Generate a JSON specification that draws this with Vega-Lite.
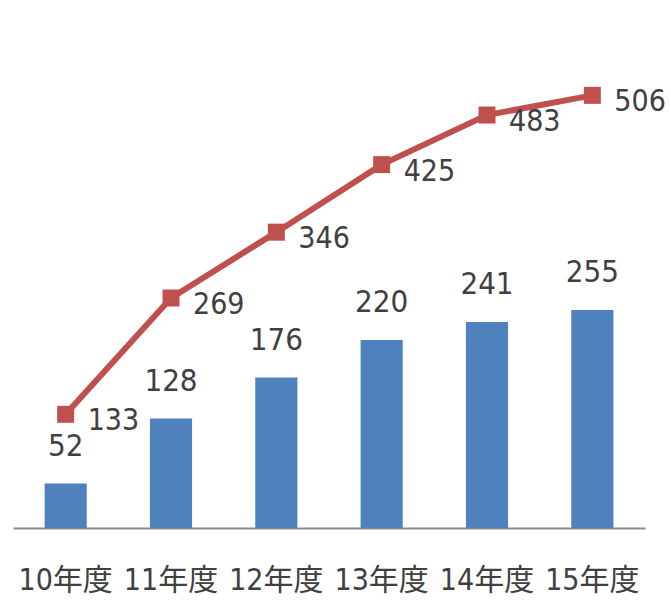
{
  "$schema": "https://vega.github.io/schema/vega-lite/v6.json",
  "width": 632,
  "height": 513,
  "autosize": {"type": "none"},
  "padding": {"left": 13, "top": 15, "right": 26, "bottom": 74},
  "background": "white",
  "config": {"view": {"stroke": null}},
  "data": {
    "values": [
      {"year": "10年度", "bar": 52, "line": 133},
      {"year": "11年度", "bar": 128, "line": 269},
      {"year": "12年度", "bar": 176, "line": 346},
      {"year": "13年度", "bar": 220, "line": 425},
      {"year": "14年度", "bar": 241, "line": 483},
      {"year": "15年度", "bar": 255, "line": 506}
    ]
  },
  "encoding": {
    "x": {
      "field": "year",
      "type": "nominal",
      "sort": null,
      "scale": {"paddingInner": 0.6, "paddingOuter": 0.3},
      "axis": {
        "title": null,
        "labelAngle": 0,
        "ticks": false,
        "domainColor": "#8c8c8c",
        "domainWidth": 2,
        "labelFont": "DejaVu Sans Condensed, Noto Sans CJK JP",
        "labelFontSize": 30,
        "labelColor": "#404040",
        "labelPadding": 37
      }
    }
  },
  "layer": [
    {
      "mark": {"type": "bar", "color": "#4F81BD"},
      "encoding": {
        "y": {
          "field": "bar",
          "type": "quantitative",
          "scale": {"domain": [0, 600]},
          "axis": null
        }
      }
    },
    {
      "mark": {
        "type": "text",
        "baseline": "alphabetic",
        "dy": -28,
        "font": "DejaVu Sans Condensed, Liberation Sans",
        "fontSize": 31,
        "color": "#404040"
      },
      "encoding": {
        "y": {"field": "bar", "type": "quantitative", "scale": {"domain": [0, 600]}},
        "text": {"field": "bar"}
      }
    },
    {
      "mark": {"type": "line", "color": "#C0504D", "strokeWidth": 6},
      "encoding": {
        "y": {"field": "line", "type": "quantitative", "scale": {"domain": [0, 600]}}
      }
    },
    {
      "mark": {"type": "point", "shape": "square", "filled": true, "size": 289, "color": "#C0504D", "opacity": 1},
      "encoding": {
        "y": {"field": "line", "type": "quantitative", "scale": {"domain": [0, 600]}}
      }
    },
    {
      "mark": {
        "type": "text",
        "align": "left",
        "baseline": "middle",
        "dx": 22,
        "dy": 7,
        "font": "DejaVu Sans Condensed, Liberation Sans",
        "fontSize": 30,
        "color": "#404040"
      },
      "encoding": {
        "y": {"field": "line", "type": "quantitative", "scale": {"domain": [0, 600]}},
        "text": {"field": "line"}
      }
    }
  ]
}
